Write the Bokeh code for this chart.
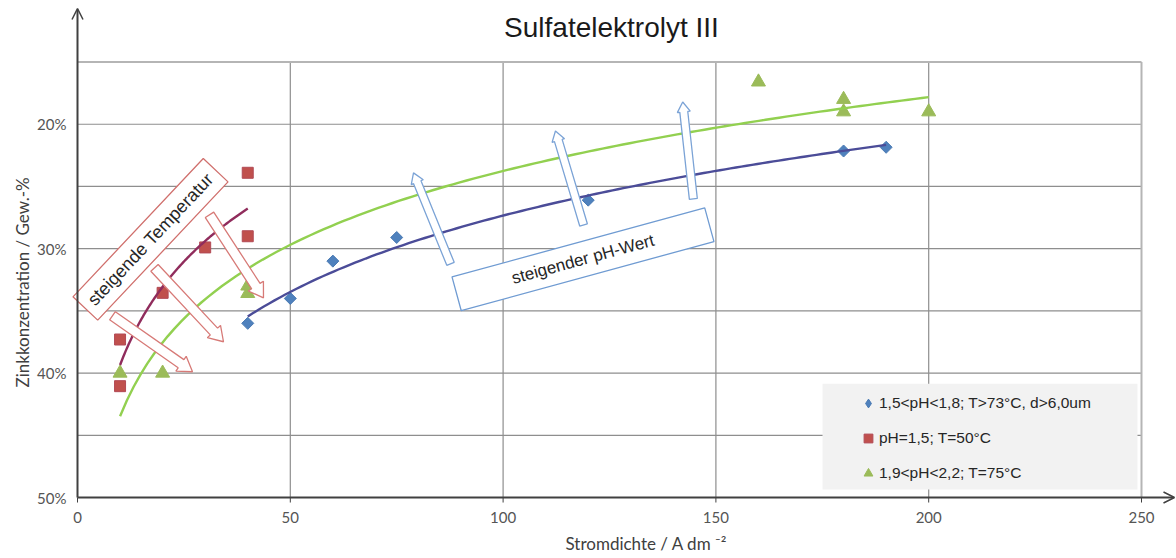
import numpy as np
from bokeh.plotting import figure
from bokeh.models import (Range1d, FixedTicker, PrintfTickFormatter, Label, Arrow,
                          OpenHead, Legend, LegendItem, Title)
from bokeh.embed import file_html
from bokeh.resources import INLINE

# ---- data -------------------------------------------------------------
BLUE_X = [40, 50, 60, 75, 120, 180, 190]
BLUE_Y = [36.0, 34.0, 31.0, 29.1, 26.1, 22.15, 21.85]
RED_X = [10, 10, 20, 30, 40, 40]
RED_Y = [37.3, 41.05, 33.55, 29.9, 29.0, 23.9]
GREEN_X = [10, 20, 40, 40, 160, 180, 180, 200]
GREEN_Y = [40.0, 40.0, 33.6, 33.0, 16.6, 18.0, 19.0, 19.0]

LABEL_BLUE = "1,5<pH<1,8; T>73°C, d>6,0um"
LABEL_RED = "pH=1,5; T=50°C"
LABEL_GREEN = "1,9<pH<2,2; T=75°C"

X_TICKS = [0, 50, 100, 150, 200, 250]
Y_TICKS = [20, 30, 40, 50]
X_GRID = [50, 100, 150, 200]
Y_GRID = [20, 25, 30, 35, 40, 45]

# ---- geometry ---------------------------------------------------------
W, H = 1176, 558
B_LEFT, B_RIGHT, B_TOP, B_BOTTOM = 70, 0, 2, 52
X0_PX, Y20_PX = 77, 124        # pixel position of x=0 and y=20 %
PX_X = 4.256    # pixels per unit of current density
PX_Y = 12.467   # pixels per percent

x_start = -(X0_PX - B_LEFT) / PX_X
x_end = (W - B_RIGHT - X0_PX) / PX_X
y_top = 20 - (Y20_PX - B_TOP) / PX_Y
y_bottom = 20 + (H - B_BOTTOM - Y20_PX) / PX_Y

p = figure(width=W, height=H, x_range=Range1d(x_start, x_end),
           y_range=Range1d(y_bottom, y_top),
           output_backend="svg", toolbar_location=None,
           min_border_left=B_LEFT, min_border_right=B_RIGHT,
           min_border_top=B_TOP, min_border_bottom=B_BOTTOM)
p.outline_line_color = None
p.grid.visible = False
p.background_fill_color = "white"
p.border_fill_color = "white"

# grid
GRID_C = "#8E8E8E"
p.segment(x0=X_GRID, y0=[15] * len(X_GRID), x1=X_GRID, y1=[50] * len(X_GRID),
          line_color=GRID_C, line_width=1.2)
p.segment(x0=[0] * len(Y_GRID), y0=Y_GRID, x1=[250] * len(Y_GRID), y1=Y_GRID,
          line_color=GRID_C, line_width=1.2)
p.segment(x0=[0, 250], y0=[15, 15], x1=[250, 250], y1=[15, 50],
          line_color="#B5B5B5", line_width=2)

# legend background
p.quad(left=175.05, right=249.06, top=40.86, bottom=49.36,
       fill_color="#F2F2F2", line_color=None)

# axes: labels only, lines and ticks drawn at x=0 / y=50 %
for ax in (p.xaxis, p.yaxis):
    ax.axis_line_color = None
    ax.major_tick_line_color = None
    ax.major_tick_out = 0
    ax.major_tick_in = 0
    ax.minor_tick_line_color = None
    ax.major_label_text_font = "Lato"
    ax.major_label_text_font_size = "15px"
    ax.major_label_text_color = "#555555"
p.xaxis.ticker = FixedTicker(ticks=X_TICKS)
p.yaxis.ticker = FixedTicker(ticks=Y_TICKS)
p.yaxis.formatter = PrintfTickFormatter(format="%d%%")
p.xaxis.major_label_standoff = 6
p.yaxis.major_label_standoff = 4

AX_C = "#404040"
x_tip = (W - 2 - X0_PX) / PX_X
y_tip = 20 - (Y20_PX - 8) / PX_Y
p.segment(x0=X_TICKS, y0=[50] * len(X_TICKS), x1=X_TICKS,
          y1=[50 + 5 / PX_Y] * len(X_TICKS), line_color=AX_C, line_width=1)
p.add_layout(Arrow(end=OpenHead(size=11, line_color=AX_C, line_width=1.5),
                   x_start=0, y_start=50, x_end=0, y_end=y_tip,
                   line_color=AX_C, line_width=2))
p.add_layout(Arrow(end=OpenHead(size=11, line_color=AX_C, line_width=1.5),
                   x_start=0, y_start=50, x_end=x_tip, y_end=50,
                   line_color=AX_C, line_width=2))

# axis titles
p.add_layout(Title(text="Zinkkonzentration  / Gew.-%", align="left", offset=118,
                   standoff=4, text_font="Lato", text_font_size="17px",
                   text_font_style="normal", text_color="#404040"), "left")
p.add_layout(Title(text="Stromdichte  / A dm ⁻²", align="left", offset=495,
                   standoff=10, text_font="Lato", text_font_size="17px",
                   text_font_style="normal", text_color="#404040"), "below")

# measured points
r_blue = p.scatter(BLUE_X, BLUE_Y, marker="square", angle=45, angle_units="deg",
                   size=8.5, fill_color="#4F81BD", line_color="#4A7AB3")
r_blue_key = p.scatter(BLUE_X, BLUE_Y, marker="diamond", size=0,
                       fill_color="#4F81BD", line_color="#4A7AB3")
r_red = p.scatter(RED_X, RED_Y, marker="square", size=11,
                  fill_color="#C0504D", line_color="#B24A56", line_width=1)
r_green = p.scatter(GREEN_X, GREEN_Y, marker="triangle", size=14,
                    fill_color="#9BBB59", line_color="#9BBB59")


# logarithmic trend lines
def log_trend(xs, ys):
    xs = np.asarray(xs, float)
    b, a = np.polyfit(np.log(xs), np.asarray(ys, float), 1)
    xx = np.linspace(xs.min(), xs.max(), 120)
    return xx, a + b * np.log(xx)


for xs, ys, col in ((RED_X, RED_Y, "#902C5C"), (GREEN_X, GREEN_Y, "#92D050"),
                    (BLUE_X, BLUE_Y, "#4B4C98")):
    tx, ty = log_trend(xs, ys)
    p.line(tx, ty, line_color=col, line_width=2.4)


# hollow block arrows (built in pixel space, mapped back to data units)
def block_arrow(tail, tip, shaft, head_w, head_len):
    tx, ty = tail
    dxp = (tip[0] - tx) * PX_X
    dyp = (tip[1] - ty) * PX_Y
    L = np.hypot(dxp, dyp)
    ux, uy = dxp / L, dyp / L
    nx, ny = -uy, ux
    n = L - head_len
    pts = [(nx * shaft / 2, ny * shaft / 2),
           (ux * n + nx * shaft / 2, uy * n + ny * shaft / 2),
           (ux * n + nx * head_w / 2, uy * n + ny * head_w / 2),
           (ux * L, uy * L),
           (ux * n - nx * head_w / 2, uy * n - ny * head_w / 2),
           (ux * n - nx * shaft / 2, uy * n - ny * shaft / 2),
           (-nx * shaft / 2, -ny * shaft / 2)]
    return ([tx + a / PX_X for a, _ in pts], [ty + b / PX_Y for _, b in pts])


TEMP_ARROWS = [((8.22, 35.39), (27.02, 39.89)),
               ((18.09, 31.54), (34.30, 37.48)),
               ((31.02, 27.28), (43.70, 33.95))]
PH_ARROWS = [((87.64, 31.22), (78.95, 23.91)),
             ((118.9, 28.09), (112.3, 20.54)),
             ((144.7, 26.0), (142.2, 18.21))]

xs_t, ys_t = zip(*[block_arrow(a, b, 10, 18, 14) for a, b in TEMP_ARROWS])
p.patches(list(xs_t), list(ys_t), fill_color="white", line_color="#D77A77", line_width=1.3)
xs_p, ys_p = zip(*[block_arrow(a, b, 8, 13, 10) for a, b in PH_ARROWS])
p.patches(list(xs_p), list(ys_p), fill_color="white", line_color="#7BA3D6", line_width=1.3)

# rotated label boxes
p.rect(x=[17.15], y=[29.25], width=190, height=34, width_units="screen",
       height_units="screen", angle=46.7, angle_units="deg",
       fill_color="white", line_color="#D0706D", line_width=1.3)
p.rect(x=[118.77], y=[30.85], width=262, height=35, width_units="screen",
       height_units="screen", angle=15.3, angle_units="deg",
       fill_color="white", line_color="#6F9BD2", line_width=1.3)
p.add_layout(Label(x=17.15, y=29.25, text="steigende Temperatur", angle=46.7,
                   angle_units="deg", text_font="Liberation Sans", text_font_size="18px",
                   text_color="#262626", text_align="center", text_baseline="middle"))
p.add_layout(Label(x=118.77, y=30.85, text="steigender pH-Wert", angle=15.3,
                   angle_units="deg", text_font="Liberation Sans", text_font_size="17px",
                   text_color="#262626", text_align="center", text_baseline="middle"))

# chart title
p.add_layout(Label(x=(611 - X0_PX) / PX_X, y=20 - (Y20_PX - 27) / PX_Y,
                   text="Sulfatelektrolyt III", text_font="Liberation Sans",
                   text_font_size="28px", text_color="#1A1A1A", text_align="center",
                   text_baseline="middle"))

# legend
legend = Legend(items=[LegendItem(label=LABEL_BLUE, renderers=[r_blue_key]),
                       LegendItem(label=LABEL_RED, renderers=[r_red]),
                       LegendItem(label=LABEL_GREEN, renderers=[r_green])],
                location=(781, 15), orientation="vertical",
                background_fill_alpha=0, border_line_alpha=0,
                padding=6, spacing=13, glyph_width=22, glyph_height=22,
                label_standoff=0, label_text_font="Liberation Sans",
                label_text_font_size="15.5px", label_text_color="#262626",
                margin=0)
p.add_layout(legend)

open("out.html", "w").write(file_html(p, INLINE))
